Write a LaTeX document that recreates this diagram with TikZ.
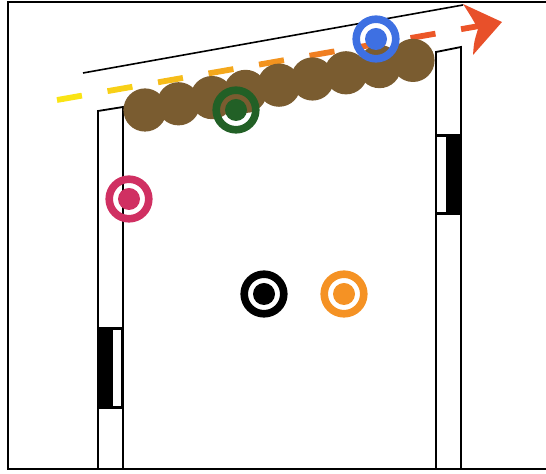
\documentclass[tikz,border=0pt]{standalone}
\usetikzlibrary{calc}
\definecolor{brownc}{RGB}{122,92,48}
\definecolor{pinkc}{RGB}{208,48,98}
\definecolor{greenc}{RGB}{34,96,38}
\definecolor{bluec}{RGB}{62,112,226}
\definecolor{orangec}{RGB}{245,146,36}
\definecolor{dashY}{RGB}{250,228,20}
\definecolor{dashO}{RGB}{236,84,40}
\definecolor{headc}{RGB}{232,80,42}
\tikzset{
  frameline/.style={line width=1pt,black},
  pillar/.style={line width=0.9pt,black},
  ring/.style={circle,draw=#1,line width=3.8pt,minimum size=19.8pt,inner sep=0pt},
  dot/.style={circle,fill=#1,minimum size=11pt,inner sep=0pt},
  blob/.style={circle,fill=brownc,minimum size=21.6pt,inner sep=0pt},
  wallline/.style={line width=0.8pt,black},
  dashseg/.style={line width=2.9pt},
}
\begin{document}
\begin{tikzpicture}[x=0.5pt,y=-0.5pt]
\useasboundingbox (0,0) rectangle (546,474);
% frame
\draw[frameline] (546,2) -- (8,2) -- (8,469) -- (546,469);
% left pillar
\fill[black] (98,328) rectangle (112,408);
\draw[pillar] (112,329) rectangle (122,407);
\draw[pillar] (98,328) -- (123,328) (98,408) -- (123,408);
\draw[pillar] (98,469) -- (98,111) -- (123,107) -- (123,469);
% right pillar
\fill[black] (447,135) rectangle (461,214);
\draw[pillar] (436,136) rectangle (447,213);
\draw[pillar] (436,135) -- (461,135) (436,214) -- (461,214);
\draw[pillar] (436,469) -- (436,52) -- (461,47) -- (461,469);
% roof line
\coordinate (r1) at (83,73);
\coordinate (r2) at (463,5);
\draw[wallline] (r1) -- (r2);
% dashed gradient arrow
\coordinate (ds) at (57,100);
\coordinate (de) at (502,22);
\foreach \i in {0,...,8}{
  \pgfmathsetmacro{\ta}{0.1135*\i}
  \pgfmathsetmacro{\tb}{0.1135*\i+0.056}
  \pgfmathsetmacro{\p}{min(100,\i*14)}
  \colorlet{segc}{dashO!\p!dashY}
  \draw[dashseg,segc] ($(ds)!\ta!(de)$) -- ($(ds)!\tb!(de)$);
}
\fill[headc] (463,4) -- (de) -- (473,55) .. controls (474,42) .. (478,29) .. controls (472,18) .. cycle;
% brown blobs
\foreach \i in {0,...,8}{
  \node[blob] (b\i) at ({145+33.5*\i},{110-6.2*\i}) {};
}
% targets
\node[ring=pinkc] (pink) at (129,199) {};
\node[dot=pinkc] (pinkdot) at (pink) {};
\node[ring=greenc] (green) at (236,110) {};
\node[dot=greenc] (greendot) at (green) {};
\node[ring=bluec] (blue) at (376,39) {};
\node[dot=bluec] (bluedot) at (blue) {};
\node[ring=black] (blackt) at (264,294) {};
\node[dot=black] (blackdot) at (blackt) {};
\node[ring=orangec] (orange) at (344,294) {};
\node[dot=orangec] (orangedot) at (orange) {};
\end{tikzpicture}
\end{document}
